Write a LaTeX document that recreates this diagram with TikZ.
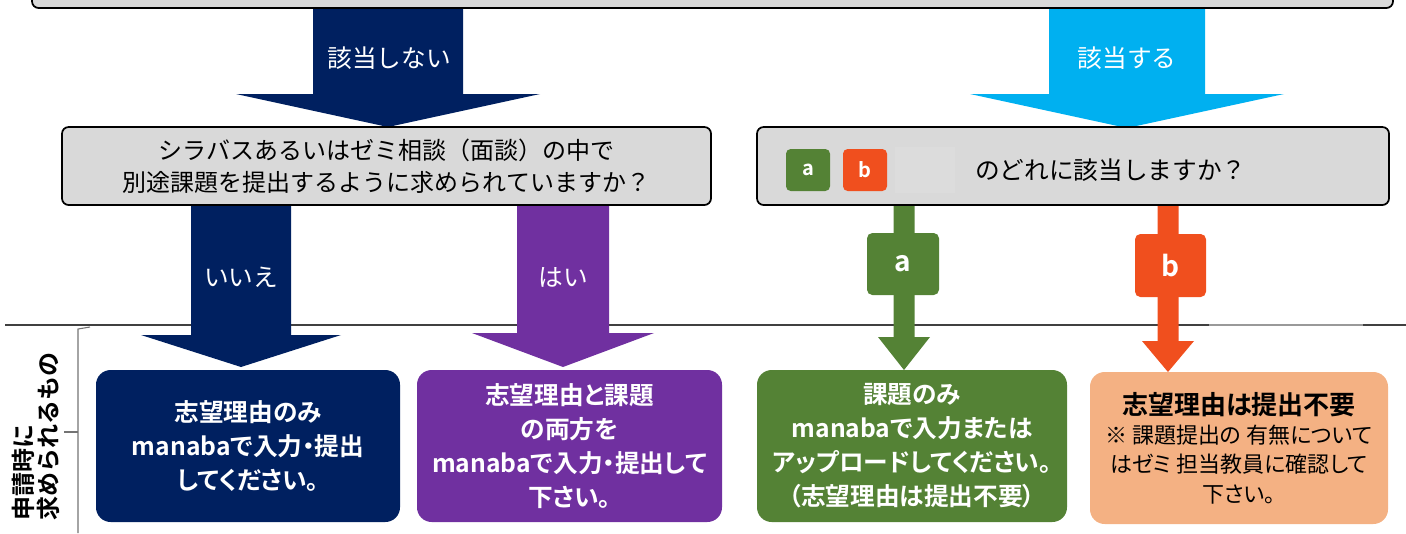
\documentclass[tikz,border=0pt]{standalone}
\usepackage{fontspec}
\setmainfont{Noto Sans CJK JP}[BoldFont={Noto Sans CJK JP Bold}]
\newfontfamily\jp{Noto Sans CJK JP}[BoldFont={Noto Sans CJK JP Bold}]
\newfontfamily\jpp{Noto Sans CJK JP}[BoldFont={Noto Sans CJK JP Bold},RawFeature=+palt]
\definecolor{navyc}{HTML}{002060}
\definecolor{cyanc}{HTML}{00B0F0}
\definecolor{purplec}{HTML}{7030A0}
\definecolor{greenc}{HTML}{548235}
\definecolor{orangec}{HTML}{F04F1E}
\definecolor{peachc}{HTML}{F4B183}
\definecolor{boxgray}{HTML}{D9D9D9}
\definecolor{phgray}{HTML}{DCDCDC}
\newcommand{\blockarr}[7]{%
  \fill[#1] (#2-#4,#3) -- (#2+#4,#3) -- (#2+#4,#5) -- (#2+#6,#5) -- (#2,#7) -- (#2-#6,#5) -- (#2-#4,#5) -- cycle;}
\begin{document}
\begin{tikzpicture}[x=0.75pt,y=-0.75pt,
  gbox/.style={draw=black, line width=1.3pt, fill=boxgray, rounded corners=5pt, inner sep=0pt, align=center,
     font=\jp\fontsize{18}{24}\selectfont},
  rbox/.style={rounded corners=11pt, inner sep=0pt, align=center, text=white, minimum height=114pt,
     font=\jpp\bfseries\fontsize{18.5}{25.5}\selectfont},
  lab/.style={text=white, inner sep=0pt, font=\jp\fontsize{18.5}{20}\selectfont},
  tagbox/.style={rounded corners=4pt, inner sep=0pt, text=white, font=\jp\bfseries\fontsize{21}{21}\selectfont},
  smalltag/.style={rounded corners=3.5pt, inner sep=0pt, text=white, minimum width=33pt, minimum height=31.5pt,
     font=\jp\bfseries\fontsize{15}{15}\selectfont}]
\useasboundingbox (0,0) rectangle (1406,533);

% separator line and bracket
\draw[line width=0.8pt, black!75] (5,325) -- (1406,325);
\draw[line width=1.2pt, black!40] (1209,325) -- (1363,325);
\draw[line width=0.8pt, black!55] (90,327) -- (78,329) -- (78,533);
\draw[line width=0.8pt, black!55] (78,432) -- (64,432);
\node[rotate=90, align=left, inner sep=0pt, font=\jp\bfseries\fontsize{18}{19}\selectfont] (lbl) at (36,436)
  {申請時に\\求められるもの};

% top block arrows
\blockarr{navyc}{388}{0}{75}{94}{152}{127}
\blockarr{cyanc}{1127}{0}{78}{94}{157}{128}

% top box
\node[gbox, minimum width=1020.75pt, minimum height=36pt] (top) at (712.5,-16) {};
\node[lab] (no1) at (389,58) {該当しない};
\node[lab] (yes1) at (1127,58) {該当する};

% lower block arrows
\blockarr{navyc}{241}{200}{50}{335}{100}{367}
\blockarr{purplec}{563}{200}{46}{333}{91}{367}
\blockarr{greenc}{904}{200}{10.5}{337}{26}{370}
\blockarr{orangec}{1168}{200}{10.5}{341}{26}{372}

% middle boxes
\node[gbox, minimum width=486.75pt, minimum height=58.5pt] (q1) at (386.5,166)
  {シラバスあるいはゼミ相談（面談）の中で\\別途課題を提出するように求められていますか？};
\node[gbox, minimum width=474pt, minimum height=58.5pt] (q2) at (1073,166) {};
\node[smalltag, fill=greenc] (ta) at (808,170) {a};
\node[smalltag, fill=orangec] (tb) at (865,170) {b};
\node[fill=phgray, minimum width=45pt, minimum height=34.5pt, inner sep=0pt] (ph) at (925,170) {};
\node[inner sep=0pt, font=\jp\fontsize{18.5}{20}\selectfont, anchor=west] (q2t) at (975,170) {のどれに該当しますか？};

\node[lab] (no2) at (241,277) {いいえ};
\node[lab] (yes2) at (563,277) {はい};
\node[tagbox, fill=greenc, minimum width=54pt, minimum height=46.5pt] (la) at (903,264) {a};
\node[tagbox, fill=orangec, minimum width=53.25pt, minimum height=47.25pt] (lb) at (1170.5,265.5) {b};

% bottom boxes
\node[rbox, fill=navyc, minimum width=228pt] (r1) at (248,446)
  {志望理由のみ\\manabaで入力・提出\\してください。};
\node[rbox, fill=purplec, minimum width=228.75pt] (r2) at (569.5,446)
  {志望理由と課題\\の両方を\\manabaで入力・提出して\\下さい。};
\node[rbox, fill=greenc, minimum width=232.5pt] (r3) at (912,446)
  {課題のみ\\manabaで入力または\\アップロードしてください。\\（志望理由は提出不要）};
\node[rbox, fill=peachc, minimum width=223.5pt, text=black, font=\jpp\fontsize{16.5}{22}\selectfont] (r4) at (1239,448)
  {{\bfseries\fontsize{19.5}{22}\selectfont 志望理由は提出不要}\\※ 課題提出の 有無について\\はゼミ 担当教員に確認して\\下さい。};
\end{tikzpicture}
\end{document}
